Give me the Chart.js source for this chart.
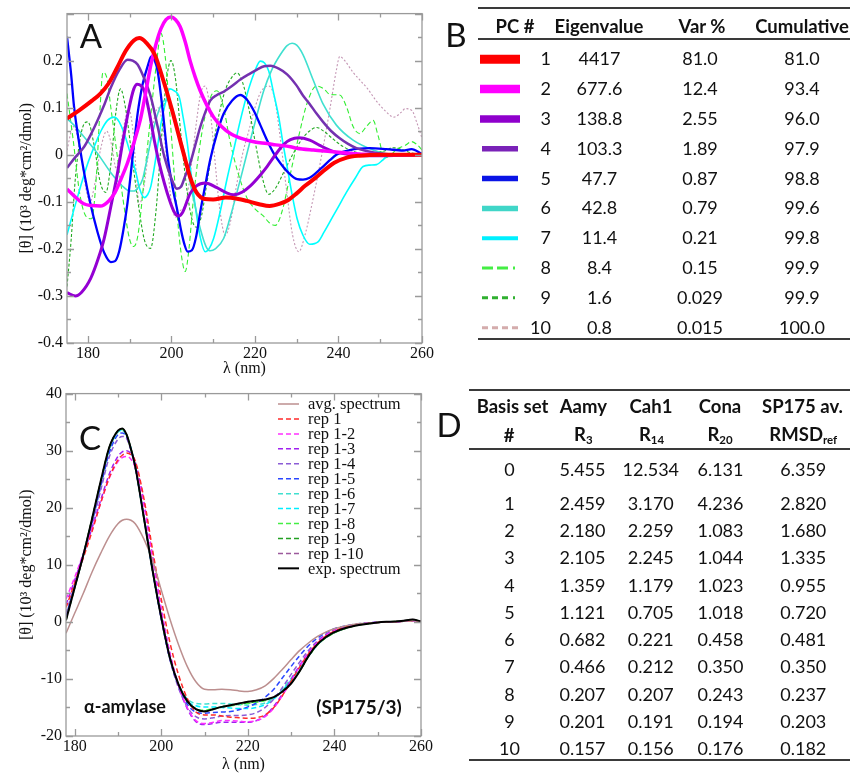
<!DOCTYPE html>
<html>
<head>
<meta charset="utf-8">
<script src="https://cdn.jsdelivr.net/npm/chart.js@4.4.1/dist/chart.umd.min.js"></script>
<style>
  html, body { margin: 0; padding: 0; background: #fff; }
  #page { position: relative; width: 850px; height: 773px; overflow: hidden; background: #fff; }
  canvas { position: absolute; left: 0; }
  #chartA { top: 0; }
  #chartC { top: 380px; }
  #swatches { position: absolute; left: 0; top: 0; }
  .t { position: absolute; line-height: 1; white-space: nowrap; color: #111;
       font-family: Lato, 'Open Sans', 'Noto Sans', sans-serif; }
  .t sub { font-size: 0.62em; vertical-align: -0.28em; line-height: 0; }
  .rule { position: absolute; height: 2px; background: #3a3a3a; }
</style>
</head>
<body>
<div id="page">
  <canvas id="chartA" width="450" height="380"></canvas>
  <canvas id="chartC" width="450" height="393"></canvas>
  <svg id="swatches" width="850" height="773"></svg>
</div>
<script>
// ---------- Panel A: principal component spectra, [nm, value] pairs ----------
const pc1 = [[175,0.077],[178,0.095],[181,0.115],[183,0.13],[185,0.152],[187,0.185],[189,0.22],[191,0.243],[192.3,0.248],[194,0.238],[196,0.213],[198,0.16],[200,0.1],[201.5,0.05],[203,0.0],[204.5,-0.048],[206,-0.08],[208,-0.094],[210,-0.095],[213,-0.091],[216,-0.094],[218,-0.098],[221,-0.105],[223.5,-0.109],[226,-0.104],[228,-0.096],[230,-0.082],[232,-0.066],[234.5,-0.049],[237,-0.03],[239,-0.017],[242,-0.006],[245,-0.002],[250,0],[255,0],[260,0]];
const pc2 = [[175,-0.073],[177,-0.09],[179,-0.104],[181,-0.108],[183,-0.109],[185,-0.098],[186.5,-0.08],[188,-0.05],[189.5,-0.017],[191,0.025],[192.7,0.08],[194,0.14],[195.1,0.192],[196.3,0.235],[197.5,0.268],[198.7,0.287],[199.9,0.293],[201,0.287],[202.1,0.272],[203.3,0.24],[204.5,0.199],[205.7,0.165],[206.9,0.136],[208.5,0.105],[210.1,0.08],[212,0.06],[214.1,0.045],[216,0.037],[218.1,0.031],[220,0.027],[222.9,0.024],[225,0.021],[228.5,0.017],[230,0.014],[234,0.01],[238,0.007],[242,0.004],[246,0.001],[250,0],[260,0]];
const pc3 = [[175,-0.293],[177,-0.3],[178.5,-0.292],[180.7,-0.262],[182.5,-0.22],[183.9,-0.178],[185.5,-0.11],[187.1,-0.038],[188.5,0.035],[189.9,0.101],[191,0.14],[191.8,0.15],[192.7,0.147],[193.5,0.136],[194.7,0.09],[195.9,0.031],[197,-0.015],[198.3,-0.06],[199.5,-0.095],[200.7,-0.122],[201.7,-0.13],[202.7,-0.122],[204.5,-0.082],[206,-0.066],[208.1,-0.06],[210.9,-0.07],[213,-0.08],[214.9,-0.085],[217,-0.079],[218.9,-0.066],[221,-0.046],[222.9,-0.025],[224.9,0.0],[226.9,0.022],[228.5,0.032],[230.5,0.036],[233.1,0.031],[235.5,0.02],[237.9,0.01],[240,0.004],[242.7,0.001],[246,-0.002],[250,-0.002],[255,-0.001],[260,0]];
const pc4 = [[175,-0.028],[177,-0.005],[179.1,0.017],[180.7,0.043],[182.3,0.073],[184,0.108],[185.5,0.143],[187.5,0.18],[189.5,0.202],[190.7,0.2],[191.9,0.192],[193.5,0.162],[195.1,0.122],[196.7,0.06],[198.3,-0.004],[199.9,-0.048],[201.3,-0.072],[202.3,-0.068],[203.3,-0.045],[204.5,-0.018],[205.7,0.02],[206.9,0.059],[208.1,0.09],[209.3,0.115],[210.9,0.127],[212.5,0.134],[214.5,0.146],[216.5,0.16],[218.5,0.171],[220.5,0.181],[222.2,0.188],[223.7,0.189],[225.7,0.183],[227.7,0.171],[229.9,0.148],[231.5,0.126],[233.1,0.108],[234.7,0.088],[236.3,0.07],[238.3,0.05],[240.3,0.035],[242.3,0.023],[244.3,0.014],[246.7,0.008],[249.1,0.004],[252,0.001],[256,0],[260,0]];
const pc5 = [[175,0.251],[176,0.17],[176.7,0.101],[178,0.02],[179.1,-0.038],[180.5,-0.1],[182.3,-0.164],[184,-0.21],[185.5,-0.228],[186.5,-0.226],[187.5,-0.205],[188.5,-0.16],[189.5,-0.101],[190.7,-0.005],[191.9,0.087],[193.1,0.15],[194.3,0.188],[195.2,0.209],[196,0.2],[196.7,0.178],[197.9,0.095],[199.1,-0.004],[200.3,-0.07],[201.5,-0.122],[202.3,-0.16],[203.1,-0.19],[203.9,-0.206],[204.9,-0.203],[205.9,-0.175],[206.9,-0.122],[208.1,-0.065],[209.3,-0.01],[210.9,0.045],[212.5,0.087],[214.5,0.115],[216.5,0.127],[218,0.118],[219.7,0.094],[221.3,0.063],[222.9,0.031],[224.5,0.003],[226.1,-0.018],[228,-0.038],[230.1,-0.052],[231.5,-0.053],[233.1,-0.049],[234.7,-0.038],[236.3,-0.025],[238,-0.011],[239.5,0.0],[241,0.006],[242.7,0.01],[245,0.013],[247.5,0.014],[251.5,0.012],[255.5,0.009],[257.5,0.012],[260,0.002]];
const pc6 = [[175,0.077],[177,0.06],[179.1,0.038],[182.3,0.003],[185.5,-0.038],[188.7,-0.07],[190,-0.077],[191.1,-0.077],[192,-0.07],[193.1,-0.052],[194.1,-0.012],[195.1,0.031],[196.3,0.075],[197.5,0.105],[198.5,0.116],[199.5,0.113],[201.1,0.073],[202.1,0.035],[203.1,0.005],[204.5,-0.06],[205.7,-0.11],[207,-0.16],[208.3,-0.195],[209.3,-0.204],[210.5,-0.2],[212.5,-0.178],[214,-0.135],[215.7,-0.08],[217.3,-0.025],[218.9,0.031],[220.5,0.085],[222.1,0.136],[224,0.18],[226.1,0.213],[227.7,0.232],[228.9,0.237],[230,0.233],[231.5,0.213],[233.9,0.16],[236.3,0.108],[239.5,0.063],[243.5,0.031],[248.3,0.01],[252.3,0.0],[257.1,-0.003],[260,0]];
const pc7 = [[175,-0.17],[176.7,-0.115],[178.3,-0.066],[179.9,-0.02],[181.5,0.017],[183.1,0.05],[184.7,0.073],[186.3,0.08],[187.5,0.07],[188.7,0.045],[190.1,0.005],[191.5,-0.038],[192.5,-0.075],[193.5,-0.091],[194.3,-0.085],[195.1,-0.066],[196.3,-0.005],[197.5,0.066],[198.7,0.115],[199.6,0.14],[200.5,0.137],[201.9,0.122],[202.8,0.08],[203.7,0.031],[204.7,-0.04],[205.7,-0.108],[206.9,-0.175],[208.1,-0.206],[209,-0.2],[210.1,-0.178],[211.7,-0.12],[213.3,-0.052],[214.9,0.01],[216.5,0.073],[218.1,0.128],[219.7,0.171],[221.3,0.199],[222.3,0.195],[223.3,0.178],[224.5,0.13],[225.7,0.08],[226.7,0.025],[227.7,-0.025],[228.9,-0.085],[230.1,-0.136],[231.5,-0.171],[233.1,-0.19],[235.1,-0.185],[236.5,-0.165],[237.9,-0.143],[240,-0.11],[241.9,-0.08],[244,-0.05],[245.9,-0.025],[247.5,-0.022],[249.1,-0.021],[250.5,-0.012],[251.5,-0.004],[253.9,0],[260,0]];
const pc8 = [[175,0.13],[176.5,0.03],[178,-0.08],[179.5,-0.13],[180.9,-0.136],[182,-0.05],[182.8,0.08],[183.6,0.175],[184.5,0.165],[185.5,0.1],[187,0.0],[188.5,-0.1],[190,-0.18],[191,-0.195],[192,-0.17],[193.5,-0.05],[195,0.08],[196.5,0.2],[197.5,0.258],[198.5,0.21],[199.5,0.1],[200.5,-0.02],[201.5,-0.14],[202.5,-0.22],[203.3,-0.248],[204.2,-0.2],[205.2,-0.1],[206.5,0.0],[208,0.08],[209.5,0.125],[210.9,0.136],[212.5,0.1],[214,0.03],[216,-0.04],[218,-0.09],[220,-0.115],[222,-0.13],[223.5,-0.145],[224.9,-0.15],[226.5,-0.12],[228.5,-0.04],[230.5,0.04],[232.5,0.11],[234.7,0.146],[236.5,0.14],[238,0.128],[240.3,0.127],[242,0.1],[243.5,0.06],[245.1,0.045],[246.7,0.06],[248.3,0.073],[249.5,0.04],[251.1,-0.007],[252.5,0.0],[254,0.012],[256,0.02],[257.5,0.028],[259,0.02],[260,0.01]];
const pc9 = [[175,-0.28],[176,-0.18],[177,-0.05],[178.5,0.05],[180,0.07],[181.5,0.02],[183,-0.06],[184.3,-0.08],[185.5,-0.02],[186.7,0.09],[187.8,0.14],[189,0.1],[190.5,0.0],[192,-0.1],[193.5,-0.18],[195,-0.199],[196.3,-0.12],[197.5,0.02],[198.7,0.15],[199.9,0.2],[201,0.16],[202.3,0.04],[203.8,-0.08],[205,-0.14],[206,-0.154],[207.2,-0.13],[208.5,-0.06],[210,0.02],[211.5,0.09],[213,0.14],[214.5,0.165],[215.7,0.174],[217,0.155],[218.5,0.1],[220,0.03],[221.8,-0.05],[223.3,-0.084],[225,-0.07],[227,-0.035],[229,0.0],[231,0.03],[233,0.05],[234.7,0.058],[236.5,0.05],[238.5,0.035],[241,0.018],[244,0.006],[247,0.0],[249,0.005],[251,0.008],[253,0.015],[255,0.012],[257,0.005],[260,0.0]];
const pc10 = [[175,0.01],[176.5,0.06],[178,0.02],[179.5,-0.07],[180.5,-0.1],[181.7,-0.06],[183,0.01],[184.5,0.05],[185.7,0.02],[186.8,-0.03],[188,0.03],[189.8,0.097],[190.8,0.05],[191.6,-0.04],[192.3,-0.106],[193.2,-0.08],[194.3,-0.01],[195.5,0.06],[196.8,0.1],[197.8,0.07],[199,-0.02],[200,-0.1],[201,-0.133],[202,-0.12],[203.5,-0.1],[204.8,-0.02],[206,0.07],[207,0.13],[208.1,0.146],[209.2,0.1],[210.3,0.0],[211.5,-0.11],[212.9,-0.171],[214.2,-0.14],[215.5,-0.07],[217,0.0],[218.5,0.05],[220,0.1],[221.5,0.135],[223.3,0.146],[224.7,0.12],[226,0.04],[227.5,-0.07],[229,-0.17],[230.5,-0.206],[232,-0.17],[234,-0.09],[236,0.0],[238,0.1],[239.5,0.18],[240.3,0.209],[241.5,0.2],[243.5,0.175],[245,0.16],[247,0.14],[249,0.115],[251,0.095],[253.3,0.08],[255,0.09],[256,0.098],[257.6,0.094],[258.7,0.07],[260,0.035]];

const pcLabels = ['1','2','3','4','5','6','7','8','9','10'];
const pcEigen  = ['4417','677.6','138.8','103.3','47.7','42.8','11.4','8.4','1.6','0.8'];
const pcVar    = ['81.0','12.4','2.55','1.89','0.87','0.79','0.21','0.15','0.029','0.015'];
const pcCum    = ['81.0','93.4','96.0','97.9','98.8','99.6','99.8','99.9','99.9','100.0'];

const xTicksA = [180, 200, 220, 240, 260];
const xLabelsA = ['180', '200', '220', '240', '260'];
const yTicksA = [-0.4, -0.3, -0.2, -0.1, 0, 0.1, 0.2];
const yLabelsA = ['-0.4', '-0.3', '-0.2', '-0.1', '0', '0.1', '0.2'];

// ---------- Panel C: reconstructed alpha-amylase spectra ----------
const wlC = [178,180,182,184,186,188,190,191,192,193,194,196,198,200,202,204,206,208,210,212,214,216,218,220,222,224,226,228,230,232,234,236,238,240,242,244,246,248,250,252,254,256,258,260];
const avgSpectrum = [-2.0,1.5,5.0,8.7,12.0,15.0,17.2,17.8,18.0,17.8,17.2,14.5,10.8,5.6,0.5,-4.0,-7.8,-10.5,-11.8,-11.9,-11.8,-11.9,-12.1,-12.2,-11.9,-11.2,-9.9,-8.3,-6.6,-5.0,-3.7,-2.6,-1.8,-1.2,-0.8,-0.5,-0.3,-0.2,-0.1,0.0,0.0,0.1,0.2,0.1];
const rep1    = [2.5,6.8,11.2,15.8,20.8,25.3,28.4,29.2,29.6,29.3,28.2,21.6,12.6,4.0,-3.6,-9.3,-13.4,-15.8,-16.3,-16.3,-16.5,-16.7,-16.8,-16.9,-16.8,-16.3,-15.0,-12.9,-10.4,-7.9,-5.6,-3.8,-2.5,-1.6,-1.0,-0.6,-0.4,-0.2,-0.1,0.0,0.0,0.1,0.2,0.1];
const rep1to2 = [4.0,7.8,12.0,16.3,20.8,25.2,28.1,28.8,29.0,28.5,27.0,20.4,11.0,2.0,-5.6,-11.1,-15.0,-17.3,-17.8,-17.6,-17.3,-17.3,-17.4,-17.5,-17.3,-16.6,-15.1,-12.9,-10.4,-7.8,-5.5,-3.7,-2.4,-1.5,-1.0,-0.6,-0.4,-0.2,-0.1,0.0,0.0,0.1,0.2,0.1];
const rep1to3 = [3.0,7.3,11.8,16.4,21.3,25.9,29.0,29.8,30.0,29.5,28.0,21.0,11.5,2.2,-5.5,-11.2,-15.2,-17.5,-18.0,-17.8,-17.6,-17.6,-17.6,-17.6,-17.3,-16.4,-14.8,-12.6,-10.1,-7.6,-5.4,-3.6,-2.3,-1.5,-1.0,-0.6,-0.4,-0.2,-0.1,0.0,0.0,0.1,0.2,0.1];
const rep1to4 = [1.5,6.5,11.5,17.0,23.0,28.9,32.0,32.5,32.1,30.1,27.1,18.5,9.1,0.5,-6.6,-11.6,-14.9,-16.6,-17.0,-16.8,-16.5,-16.4,-16.4,-16.3,-15.9,-15.0,-13.5,-11.5,-9.2,-7.0,-5.0,-3.4,-2.2,-1.4,-0.9,-0.6,-0.4,-0.2,-0.1,0.0,0.0,0.1,0.2,0.1];
const rep1to5 = [1.0,6.2,11.6,17.4,23.6,29.6,32.8,33.1,32.4,30.2,27.0,18.3,9.0,0.6,-6.5,-11.3,-14.4,-15.8,-16.0,-15.9,-15.8,-15.7,-15.4,-14.9,-14.2,-13.2,-11.8,-9.8,-7.8,-5.9,-4.2,-2.9,-1.9,-1.2,-0.8,-0.5,-0.3,-0.2,-0.1,0.0,0.0,0.1,0.2,0.1];
const rep1to6 = [0.5,6.0,11.6,17.6,24.0,30.1,33.3,33.5,32.6,30.4,27.1,18.3,9.0,0.7,-6.4,-11.0,-13.5,-14.3,-14.4,-14.3,-14.3,-14.4,-14.5,-14.6,-14.5,-14.2,-13.3,-11.8,-9.9,-7.8,-5.7,-3.9,-2.6,-1.7,-1.1,-0.7,-0.4,-0.2,-0.1,0.0,0.0,0.1,0.2,0.1];
const rep1to7 = [0.8,6.2,11.8,17.8,24.2,30.2,33.3,33.6,32.7,30.4,27.2,18.3,9.0,0.8,-6.4,-11.1,-13.8,-14.7,-14.9,-14.9,-15.0,-15.1,-15.2,-15.2,-15.0,-14.5,-13.5,-12.0,-10.2,-8.2,-6.0,-4.1,-2.7,-1.8,-1.2,-0.7,-0.4,-0.2,-0.1,0.0,0.0,0.1,0.2,0.1];
const rep1to8 = [0.4,6.0,11.7,17.9,24.4,30.5,33.4,33.7,32.7,30.3,27.2,18.2,9.0,0.8,-6.3,-11.0,-13.9,-15.2,-15.5,-15.2,-14.9,-14.7,-14.5,-14.3,-14.1,-13.8,-13.2,-12.1,-10.6,-8.5,-6.1,-4.1,-2.8,-1.9,-1.3,-0.8,-0.5,-0.3,-0.1,0.0,0.05,0.15,0.3,0.1];
const rep1to9 = [0.3,6.0,11.7,18.0,24.5,30.5,33.5,33.8,32.8,30.3,27.2,18.2,9.0,0.8,-6.3,-11.0,-13.9,-15.3,-15.6,-15.3,-14.9,-14.6,-14.4,-14.2,-14.0,-13.7,-13.2,-12.2,-10.7,-8.6,-6.1,-4.1,-2.8,-1.9,-1.3,-0.8,-0.5,-0.3,-0.1,0.0,0.05,0.2,0.35,0.1];
const rep1to10 = [0.4,6.1,11.8,18.0,24.5,30.5,33.4,33.8,32.8,30.3,27.2,18.2,9.0,0.8,-6.3,-11.0,-13.9,-15.3,-15.7,-15.3,-14.9,-14.6,-14.3,-14.0,-13.8,-13.6,-13.1,-12.1,-10.7,-8.5,-6.0,-4.0,-2.7,-1.8,-1.2,-0.8,-0.5,-0.3,-0.1,0.0,0.05,0.2,0.4,0.1];
const expSpectrum = [0.3,6.0,11.7,18.0,24.6,30.6,33.5,33.9,32.8,30.3,27.2,18.2,9.0,0.8,-6.3,-11.0,-13.9,-15.3,-15.7,-15.3,-14.9,-14.6,-14.3,-14.0,-13.8,-13.6,-13.2,-12.2,-10.8,-8.6,-6.0,-4.0,-2.7,-1.8,-1.2,-0.8,-0.5,-0.3,-0.1,0.0,0.05,0.2,0.4,0.1];

const xTicksC = [180, 200, 220, 240, 260];
const xLabelsC = ['180', '200', '220', '240', '260'];
const yTicksC = [-20, -10, 0, 10, 20, 30, 40];
const yLabelsC = ['-20', '-10', '0', '10', '20', '30', '40'];

// ---------- Panel D: basis-set RMSD table ----------
const basisIds  = ['0','1','2','3','4','5','6','7','8','9','10'];
const rmsdAamy  = ['5.455','2.459','2.180','2.105','1.359','1.121','0.682','0.466','0.207','0.201','0.157'];
const rmsdCah1  = ['12.534','3.170','2.259','2.245','1.179','0.705','0.221','0.212','0.207','0.191','0.156'];
const rmsdCona  = ['6.131','4.236','1.083','1.044','1.023','1.018','0.458','0.350','0.243','0.194','0.176'];
const rmsdSP175 = ['6.359','2.820','1.680','1.335','0.955','0.720','0.481','0.350','0.237','0.203','0.182'];

// ---------- drawing helpers ----------
const serif = "'Liberation Serif', 'DejaVu Serif', serif";
const frameGrey = '#9a9a9a';

// Box frame with inward major/minor ticks on all four sides
const frameTicks = {
  id: 'frameTicks',
  afterDatasetsDraw(chart, args, o) {
    const { ctx, chartArea: a, scales: { x, y } } = chart;
    ctx.save();
    ctx.strokeStyle = frameGrey;
    ctx.lineWidth = 1.3;
    ctx.strokeRect(a.left, a.top, a.right - a.left, a.bottom - a.top);
    ctx.beginPath();
    const xt = (v, len) => {
      const p = Math.round(x.getPixelForValue(v)) + 0.5;
      ctx.moveTo(p, a.bottom); ctx.lineTo(p, a.bottom - len);
      ctx.moveTo(p, a.top); ctx.lineTo(p, a.top + len);
    };
    const yt = (v, len) => {
      const p = Math.round(y.getPixelForValue(v)) + 0.5;
      ctx.moveTo(a.left, p); ctx.lineTo(a.left + len, p);
      ctx.moveTo(a.right, p); ctx.lineTo(a.right - len, p);
    };
    o.xMajor.forEach(v => xt(v, 7));
    o.xMinor.forEach(v => xt(v, 4));
    o.yMajor.forEach(v => yt(v, 7));
    o.yMinor.forEach(v => yt(v, 4));
    ctx.stroke();
    ctx.restore();
  }
};

// Legend drawn inside the plot area, built from the datasets themselves
const innerLegend = {
  id: 'innerLegend',
  afterDatasetsDraw(chart, args, o) {
    if (!o.display) return;
    const { ctx } = chart;
    ctx.save();
    ctx.font = '16.5px ' + serif;
    ctx.textBaseline = 'middle';
    ctx.fillStyle = '#111';
    chart.data.datasets.forEach((ds, i) => {
      const yy = o.y0 + i * o.dy;
      ctx.beginPath();
      ctx.strokeStyle = ds.borderColor;
      ctx.lineWidth = ds.borderWidth;
      ctx.setLineDash(ds.borderDash || []);
      ctx.moveTo(o.x0, yy); ctx.lineTo(o.x1, yy);
      ctx.stroke();
      ctx.setLineDash([]);
      ctx.fillText(ds.label, o.xText, yy + 1);
    });
    ctx.restore();
  }
};

function axisX(min, max, ticks, labels, height, titlePad) {
  return {
    type: 'linear', min, max,
    afterFit(s) { s.height = height; },
    afterBuildTicks(s) { s.ticks = ticks.map(v => ({ value: v })); },
    grid: { display: false, drawTicks: false },
    border: { display: false },
    ticks: { padding: 1, autoSkip: false, maxRotation: 0, color: '#111',
             font: { family: serif, size: 16 },
             callback: (v, i) => labels[i] },
    title: { display: true, text: 'λ (nm)', color: '#111',
             font: { family: serif, size: 16, lineHeight: 1 },
             padding: { top: 0, bottom: titlePad } }
  };
}
function axisY(min, max, ticks, labels, width, titlePad) {
  return {
    type: 'linear', min, max,
    afterFit(s) { s.width = width; },
    afterBuildTicks(s) { s.ticks = ticks.map(v => ({ value: v })); },
    grid: { display: false, drawTicks: false },
    border: { display: false },
    ticks: { padding: 4, autoSkip: false, color: '#111',
             font: { family: serif, size: 16 },
             callback: (v, i) => labels[i] },
    title: { display: true, text: '[θ] (10³ deg*cm²/dmol)', color: '#111',
             font: { family: serif, size: 16, lineHeight: 1 },
             padding: { top: titlePad, bottom: 0 } }
  };
}

// ---------- Panel A chart ----------
const pcStyles = [
  { data: pc1,  color: '#ff0000', width: 4 },
  { data: pc2,  color: '#ff00ff', width: 3.5 },
  { data: pc3,  color: '#9400d3', width: 3 },
  { data: pc4,  color: '#7431b0', width: 2.5 },
  { data: pc5,  color: '#0000ff', width: 2.3 },
  { data: pc6,  color: '#40e0d0', width: 1.6 },
  { data: pc7,  color: '#00ffff', width: 1.6 },
  { data: pc8,  color: '#33ee33', width: 1.1, dash: [5, 3] },
  { data: pc9,  color: '#22aa22', width: 1.1, dash: [3, 2] },
  { data: pc10, color: '#c496b4', width: 1.1, dash: [2, 2] }
];

new Chart(document.getElementById('chartA'), {
  type: 'line',
  data: {
    datasets: pcStyles.map((s, i) => ({
      label: 'PC ' + pcLabels[i], data: s.data, borderColor: s.color,
      borderWidth: s.width, borderDash: s.dash || [], pointRadius: 0,
      cubicInterpolationMode: 'monotone', fill: false,
      order: i === 0 ? -1 : i
    }))
  },
  options: {
    responsive: false, animation: false, events: [],
    layout: { padding: { left: 0, top: 10, right: 28, bottom: 0 } },
    plugins: {
      legend: { display: false }, tooltip: { enabled: false },
      frameTicks: { xMajor: [180, 200, 220, 240, 260], xMinor: [190, 210, 230, 250],
                    yMajor: [-0.4, -0.3, -0.2, -0.1, 0, 0.1, 0.2, 0.3],
                    yMinor: [-0.35, -0.25, -0.15, -0.05, 0.05, 0.15, 0.25] }
    },
    scales: {
      x: axisX(175, 260, xTicksA, xLabelsA, 37, 3),
      y: axisY(-0.4, 0.3, yTicksA, yLabelsA, 67, 19)
    }
  },
  plugins: [frameTicks]
});

// ---------- Panel C chart ----------
const cSeries = [
  { label: 'avg. spectrum', values: avgSpectrum, color: '#bc8f8f', width: 1.5 },
  { label: 'rep 1',    values: rep1,     color: '#ff2a2a', width: 1.5, dash: [5, 3] },
  { label: 'rep 1-2',  values: rep1to2,  color: '#ff30ff', width: 1.5, dash: [5, 3] },
  { label: 'rep 1-3',  values: rep1to3,  color: '#a020f0', width: 1.5, dash: [5, 3] },
  { label: 'rep 1-4',  values: rep1to4,  color: '#8b5cd6', width: 1.5, dash: [5, 3] },
  { label: 'rep 1-5',  values: rep1to5,  color: '#2a46ff', width: 1.5, dash: [5, 3] },
  { label: 'rep 1-6',  values: rep1to6,  color: '#40e0d0', width: 1.5, dash: [5, 3] },
  { label: 'rep 1-7',  values: rep1to7,  color: '#00eeff', width: 1.5, dash: [5, 3] },
  { label: 'rep 1-8',  values: rep1to8,  color: '#44ee44', width: 1.5, dash: [5, 3] },
  { label: 'rep 1-9',  values: rep1to9,  color: '#22a022', width: 1.5, dash: [5, 3] },
  { label: 'rep 1-10', values: rep1to10, color: '#9c5a9c', width: 1.5, dash: [5, 3] },
  { label: 'exp. spectrum', values: expSpectrum, color: '#000000', width: 2 }
];

new Chart(document.getElementById('chartC'), {
  type: 'line',
  data: {
    datasets: cSeries.map((s, i) => ({
      label: s.label, data: wlC.map((w, k) => ({ x: w, y: s.values[k] })),
      borderColor: s.color, borderWidth: s.width, borderDash: s.dash || [],
      pointRadius: 0, cubicInterpolationMode: 'monotone', fill: false,
      order: s.label === 'exp. spectrum' ? -1 : i
    }))
  },
  options: {
    responsive: false, animation: false, events: [],
    layout: { padding: { left: 0, top: 10, right: 29, bottom: 0 } },
    plugins: {
      legend: { display: false }, tooltip: { enabled: false },
      frameTicks: { xMajor: [180, 200, 220, 240, 260], xMinor: [190, 210, 230, 250],
                    yMajor: [-20, -10, 0, 10, 20, 30, 40],
                    yMinor: [-15, -5, 5, 15, 25, 35] },
      innerLegend: { display: true, x0: 278, x1: 299, xText: 308, y0: 24, dy: 14.94 }
    },
    scales: {
      x: axisX(178, 260, xTicksC, xLabelsC, 37, 0),
      y: axisY(-20, 40, yTicksC, yLabelsC, 66, 19)
    }
  },
  plugins: [frameTicks, innerLegend]
});

// ---------- text, tables and rules ----------
const page = document.getElementById('page');
function put(html, x, y, opt = {}) {
  const el = document.createElement('div');
  el.className = 't';
  el.innerHTML = html;
  el.style.left = x + 'px';
  el.style.top = y + 'px';
  el.style.fontSize = (opt.size || 18) + 'px';
  if (opt.bold) el.style.fontWeight = '700';
  const tx = opt.align === 'right' ? '-100%' : opt.align === 'left' ? '0' : '-50%';
  el.style.transform = `translate(${tx},-50%)`;
  page.appendChild(el);
}
function rule(x, y, w) {
  const el = document.createElement('div');
  el.className = 'rule';
  el.style.left = x + 'px';
  el.style.top = (y - 1) + 'px';
  el.style.width = w + 'px';
  page.appendChild(el);
}

// panel letters and annotations
put('A', 91, 35, { size: 33 });
put('B', 456, 34, { size: 33 });
put('C', 90, 437, { size: 33 });
put('D', 449, 424, { size: 33 });
put('α-amylase', 125, 706, { size: 18, bold: true });
put('(SP175/3)', 359, 706, { size: 19, bold: true });

// table B
rule(478, 7.5, 372);
rule(478, 38.5, 372);
rule(478, 338.5, 372);
put('PC #', 515, 26, { bold: true, size: 18.5 });
put('Eigenvalue', 599, 26, { bold: true, size: 18.5 });
put('Var %', 702, 26, { bold: true, size: 18.5 });
put('Cumulative', 802, 26, { bold: true, size: 18.5 });

const svg = document.getElementById('swatches');
const swatchWidths = [9, 8.5, 7.5, 5.5, 5.5, 5.5, 4, 3, 3, 3];
const swatchDash = [null, null, null, null, null, null, null, '11 4 11 5 2 20', '6 4 6 4 6 5 2 20', '6 4 6 4 6 4 6 20'];
const swatchColor = ['#ff0000', '#ff00ff', '#8f00cc', '#7a22b8', '#0a14e6', '#40d6c8', '#00f0ff', '#44ee44', '#30b030', '#d4acac'];
for (let i = 0; i < pcLabels.length; i++) {
  const yc = 58.3 + i * 29.82;
  const ln = document.createElementNS('http://www.w3.org/2000/svg', 'line');
  const x0 = i < 3 ? 480 : 482;
  ln.setAttribute('x1', x0); ln.setAttribute('x2', i < 3 ? 520 : 518);
  ln.setAttribute('y1', yc + 1); ln.setAttribute('y2', yc + 1);
  ln.setAttribute('stroke', swatchColor[i]);
  ln.setAttribute('stroke-width', swatchWidths[i]);
  if (swatchDash[i]) ln.setAttribute('stroke-dasharray', swatchDash[i]);
  svg.appendChild(ln);
  put(pcLabels[i], 551, yc, { align: 'right' });
  put(pcEigen[i], 599.5, yc);
  put(pcVar[i], 700, yc);
  put(pcCum[i], 802, yc);
}

// table D
rule(469, 389.5, 381);
rule(469, 448.5, 381);
rule(469, 760, 381);
put('Basis set', 512.5, 406, { bold: true, size: 18.5 });
put('Aamy', 583.3, 406, { bold: true, size: 18.5 });
put('Cah1', 651, 406, { bold: true, size: 18.5 });
put('Cona', 720, 406, { bold: true, size: 18.5 });
put('SP175 av.', 802.5, 406, { bold: true, size: 18.5 });
put('#', 509, 435, { bold: true, size: 18.5 });
put('R<sub>3</sub>', 583.3, 434, { bold: true, size: 18.5 });
put('R<sub>14</sub>', 651.5, 434, { bold: true, size: 18.5 });
put('R<sub>20</sub>', 720, 434, { bold: true, size: 18.5 });
put('RMSD<sub>ref</sub>', 803.3, 434, { bold: true, size: 18.5 });
for (let i = 0; i < basisIds.length; i++) {
  const yc = i === 0 ? 469.3 : 502.7 + (i - 1) * 27.29;
  put(basisIds[i], 509.5, yc);
  put(rmsdAamy[i], 582.5, yc);
  put(rmsdCah1[i], 650.8, yc);
  put(rmsdCona[i], 720.5, yc);
  put(rmsdSP175[i], 803.3, yc);
}
</script>
</body>
</html>
